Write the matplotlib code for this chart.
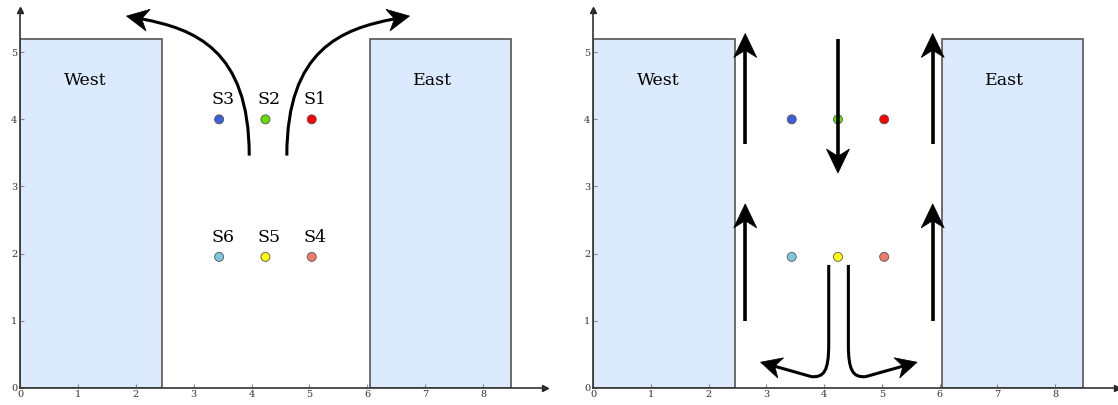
import matplotlib
matplotlib.use('Agg')
import numpy as np
import matplotlib.pyplot as plt
from matplotlib.patches import Rectangle, Polygon, PathPatch
from matplotlib.path import Path
from matplotlib.transforms import IdentityTransform

plt.rcParams['font.family'] = 'DejaVu Serif'

# buildings: (x0, x1, height, label)
buildings = [(0.0, 2.45, 5.2, 'West'), (6.04, 8.49, 5.2, 'East')]
label_xy = [(1.13, 4.58), (7.13, 4.58)]

# sensors
sensor_names = ['S1', 'S2', 'S3', 'S4', 'S5', 'S6']
sensor_x = [5.04, 4.24, 3.44, 5.04, 4.24, 3.44]
sensor_y = [4.0, 4.0, 4.0, 1.95, 1.95, 1.95]
sensor_colors = ['#ff0000', '#66dd00', '#3a5fd9', '#f07a6a', '#ffff00', '#7cc6e2']

M, C, L = Path.MOVETO, Path.CURVE4, Path.LINETO

# flow arrows, left panel
flows_left = [
    ([(3.96, 3.46), (3.96, 5.05), (3.0, 5.35), (1.84, 5.54)], [M, C, C, C]),
    ([(4.61, 3.46), (4.61, 5.05), (5.57, 5.35), (6.73, 5.54)], [M, C, C, C]),
]
# flow arrows, right panel
flows_right = [
    ([(2.635, 3.64), (2.635, 5.28)], [M, L]),
    ([(2.635, 1.0), (2.635, 2.74)], [M, L]),
    ([(5.88, 3.64), (5.88, 5.28)], [M, L]),
    ([(5.88, 1.0), (5.88, 2.74)], [M, L]),
    ([(4.24, 5.2), (4.24, 3.2)], [M, L]),
    ([(4.08, 1.83), (4.08, 0.65), (4.08, 0.25), (4.0, 0.15), (3.78, 0.165), (2.90, 0.38)],
     [M, L, C, C, C, L]),
    ([(4.42, 1.83), (4.42, 0.65), (4.42, 0.25), (4.5, 0.15), (4.72, 0.165), (5.61, 0.38)],
     [M, L, C, C, C, L]),
]

xmax, ymax = 9.07, 5.63


def base(ax, labels):
    ax.set_xlim(0, xmax)
    ax.set_ylim(0, ymax)
    for s in ['top', 'right']:
        ax.spines[s].set_visible(False)
    for s in ['left', 'bottom']:
        ax.spines[s].set_color('#333333')
        ax.spines[s].set_linewidth(1.2)
    ax.set_xticks(range(0, 9))
    ax.set_yticks(range(0, 6))
    ax.tick_params(direction='in', length=3, color='#888888', labelsize=7,
                   labelcolor='#333333', pad=2)
    ax.plot(1, 0, '>', color='#222222', ms=5, transform=ax.transAxes, clip_on=False)
    ax.plot(0, 1, '^', color='#222222', ms=5, transform=ax.transAxes, clip_on=False)

    for (x0, x1, h, name), (tx, ty) in zip(buildings, label_xy):
        ax.add_patch(Rectangle((x0, 0), x1 - x0, h, facecolor='#dbeafc',
                               edgecolor='#555555', lw=1.2, zorder=1))
        ax.text(tx, ty, name, fontsize=12.5, ha='center', va='center')

    ax.scatter(sensor_x, sensor_y, s=42, c=sensor_colors, edgecolors='#555555',
               linewidths=0.6, zorder=4)
    if labels:
        for n, x, y in zip(sensor_names, sensor_x, sensor_y):
            ax.text(x + 0.06, y + 0.29, n, fontsize=12.5, ha='center', va='center')


def flow(ax, verts, codes, lw=2.4, hl=25, hw=23, notch=0.7):
    T = ax.transData
    tip = T.transform(verts[-1])
    prev = T.transform(verts[-2])
    d = (tip - prev) / np.hypot(*(tip - prev))
    n = np.array([-d[1], d[0]])
    back = tip - notch * hl * d
    shaft = list(verts[:-1]) + [tuple(T.inverted().transform(back))]
    ax.add_patch(PathPatch(Path(shaft, codes), fill=False, lw=lw,
                           edgecolor='black', capstyle='butt', zorder=5))
    head = [tip, tip - hl * d + hw / 2 * n, back, tip - hl * d - hw / 2 * n]
    ax.add_patch(Polygon(head, closed=True, facecolor='black', edgecolor='black',
                         lw=0.5, transform=IdentityTransform(), clip_on=False,
                         zorder=6))


fig = plt.figure(figsize=(11.18, 4.05), dpi=100)
ax1 = fig.add_axes([20 / 1118, 17.3 / 405, 525 / 1118, 377.7 / 405])
ax2 = fig.add_axes([593 / 1118, 17.3 / 405, 524 / 1118, 377.7 / 405])

base(ax1, True)
for v, c in flows_left:
    flow(ax1, v, c, lw=2.2, hl=22, hw=22)

base(ax2, False)
for v, c in flows_right:
    flow(ax2, v, c, lw=2.6 if len(v) == 2 else 2.2, hl=24 if len(v) == 2 else 21,
         hw=23 if len(v) == 2 else 21)

fig.savefig('out.png', dpi=100)
